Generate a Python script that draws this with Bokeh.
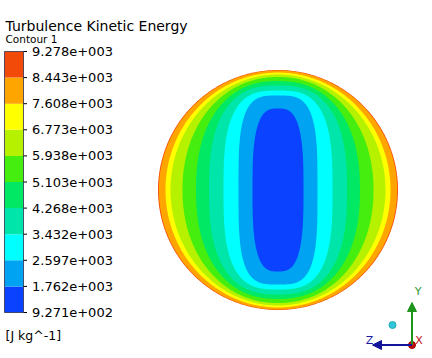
import numpy as np
from bokeh.plotting import figure
from bokeh.models import Range1d, ColumnDataSource, Arrow, NormalHead
from bokeh.embed import file_html
from bokeh.resources import INLINE
from bokeh.core.properties import value

# ---------------- data ----------------
title = "Turbulence Kinetic Energy"
subtitle = "Contour 1"
units = "[J kg^-1]"

levels = [927.1, 1762, 2597, 3432, 4268, 5103, 5938, 6773, 7608, 8443, 9278]
level_labels = ["9.271e+002", "1.762e+003", "2.597e+003", "3.432e+003",
                "4.268e+003", "5.103e+003", "5.938e+003", "6.773e+003",
                "7.608e+003", "8.443e+003", "9.278e+003"]
band_colors = ["#0A42FF", "#00A2F2", "#00FFFF", "#00E6AA", "#00E864",
               "#46EE10", "#B6F200", "#FFFF00", "#FFA500", "#F24A08"]

# contour boundaries for levels 1762 ... 8443 (fraction of pipe radius)
contour_half_width = [0.2125, 0.329, 0.454, 0.575, 0.683, 0.796, 0.896, 0.9375, 0.993]
contour_half_height = [0.679, 0.7875, 0.829, 0.871, 0.908, 0.942, 0.9625, 0.979, 0.996]
contour_squareness = [3.0, 3.5, 3.0, 2.6, 2.3, 2.1, 2.0, 2.0, 2.0]

# ---------------- layout ----------------
W, H = 432, 358
cx, cy, R = 277.5, 189.5, 120.0
FONT = value("DejaVu Sans")

p = figure(width=W, height=H, x_range=Range1d(0, W), y_range=Range1d(H, 0),
           output_backend="svg", toolbar_location=None, min_border=0,
           x_axis_type=None, y_axis_type=None)
p.grid.visible = False
p.outline_line_color = None
p.background_fill_color = "white"
p.border_fill_color = "white"


def shape(a, b, n, m=720):
    t = np.linspace(0, 2 * np.pi, m, endpoint=False)
    c, s = np.cos(t), np.sin(t)
    x = a * np.sign(c) * np.abs(c) ** (2.0 / n)
    y = b * np.sign(s) * np.abs(s) ** (2.0 / n)
    return list(cx + R * x), list(cy - R * y)


xs, ys, cols = [], [], []
x0, y0 = shape(1.0, 1.0, 2.0)
xs.append(x0); ys.append(y0); cols.append(band_colors[-1])
for k in range(len(contour_half_width) - 1, -1, -1):
    xk, yk = shape(contour_half_width[k], contour_half_height[k], contour_squareness[k])
    xs.append(xk); ys.append(yk); cols.append(band_colors[k])
p.patches(xs="xs", ys="ys", fill_color="cols", line_color=None,
          source=ColumnDataSource(dict(xs=xs, ys=ys, cols=cols)))

# ---------------- colour legend ----------------
bar_left, bar_right, bar_top, bar_bottom = 4, 23, 51, 312
step = (bar_bottom - bar_top) / (len(levels) - 1)
tick_y = [bar_bottom - i * step for i in range(len(levels))]
p.quad(left=bar_left, right=bar_right, bottom=tick_y[:-1], top=tick_y[1:],
       fill_color=band_colors, line_color=None)
p.quad(left=bar_left, right=bar_right, bottom=bar_bottom, top=bar_top,
       fill_color=None, line_color="#303050", line_width=0.8)
p.segment(x0=bar_right, x1=bar_right + 3.5, y0=tick_y, y1=tick_y,
          line_color="black", line_width=1)
p.text(x=31.5, y=tick_y, text=level_labels, text_font=FONT,
       text_font_size="13px", text_baseline="middle", text_align="left",
       text_color="black")

p.text(x=[5], y=[25], text=[title], text_font=FONT, text_font_size="14px",
       text_baseline="alphabetic", text_color="black")
p.text(x=[5], y=[38.5], text=[subtitle], text_font=FONT, text_font_size="10.5px",
       text_baseline="alphabetic", text_color="black")
p.text(x=[5], y=[334.5], text=[units], text_font=FONT, text_font_size="12.5px",
       text_baseline="alphabetic", text_color="black")

# ---------------- axis triad ----------------
ox, oy = 411.5, 344.5
p.add_layout(Arrow(x_start=ox, y_start=oy, x_end=ox, y_end=302,
                   line_color="#1E961E", line_width=2,
                   end=NormalHead(size=9, fill_color="#1E961E", line_color="#1E961E")))
p.add_layout(Arrow(x_start=ox, y_start=oy, x_end=372, y_end=oy,
                   line_color="#14149A", line_width=2,
                   end=NormalHead(size=9, fill_color="#14149A", line_color="#14149A")))
p.scatter(x=[ox], y=[oy], size=7, fill_color="#C80A0A", line_color="#A00000")
p.scatter(x=[392], y=[324.5], size=7, fill_color="#30C8D8", line_color="#20A8B8")
p.text(x=[417.5], y=[290.5], text=["Y"], text_font=FONT, text_font_size="11px",
       text_baseline="middle", text_align="center", text_color="#2E9A2E")
p.text(x=[369], y=[340], text=["Z"], text_font=FONT, text_font_size="11px",
       text_baseline="middle", text_align="center", text_color="#1A1AA0")
p.text(x=[418.5], y=[340], text=["X"], text_font=FONT, text_font_size="11px",
       text_baseline="middle", text_align="center", text_color="#C01010")

open("out.html", "w").write(file_html(p, INLINE))
